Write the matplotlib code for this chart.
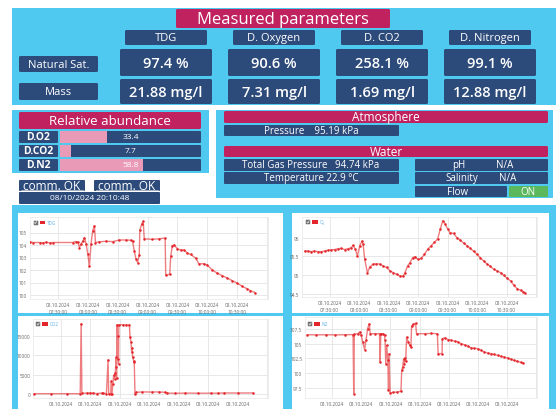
import matplotlib
matplotlib.use('Agg')
import matplotlib.pyplot as plt
from matplotlib.patches import FancyBboxPatch, Rectangle
import pandas as pd
import numpy as np

plt.rcParams['font.family'] = ['Open Sans', 'DejaVu Sans']

# ---------------- data ----------------
params = ['TDG', 'D. Oxygen', 'D. CO2', 'D. Nitrogen']
row_labels = ['Natural Sat.', 'Mass']
nat_sat = ['97.4 %', '90.6 %', '258.1 %', '99.1 %']
mass = ['21.88 mg/l', '7.31 mg/l', '1.69 mg/l', '12.88 mg/l']
abund_labels = ['D.O2', 'D.CO2', 'D.N2']
abund_values = [33.4, 7.7, 58.8]
atm_pressure = 'Pressure    95.19 kPa'
tgp_text = 'Total Gas Pressure   94.74 kPa'
temp_text = 'Temperature 22.9 °C'
comm_texts = ['comm. OK', 'comm. OK']
timestamp = '08/10/2024 20:10:48'
day = '2024-10-08'
tick_times = ['07:30:00', '08:00:00', '08:30:00', '09:00:00', '09:30:00', '10:00:00', '10:30:00']

# minutes after 07:00
tdg_t = [1.7, 5, 11.7, 15, 18.3, 21.7, 25, 45, 47.7, 50, 51.7, 53.3, 55, 56.7, 58.3, 60, 61.7, 63.3,
         65, 66.7, 67.7, 71.7, 78.3, 85, 91.7, 98.3, 103.3, 105, 106.7, 108.3, 110, 111.7, 112.3,
         114.3, 115.7, 116.7, 125, 131.7, 137.7, 138.3, 142.3, 143.3, 145, 146.7, 150, 153.3, 156.7,
         160, 163.3, 168.3, 171.7, 176.7, 180, 185, 190, 195, 200, 205, 210, 215, 220, 223.3, 227.7]
tdg_v = [104.21, 104.2, 104.2, 104.18, 104.22, 104.17, 104.2, 104.2, 104.27, 104.25, 103.8, 104.1,
         104.3, 104.6, 104.1, 103.3, 102.3, 104.1, 105.15, 105.55, 104.2, 104.25, 104.3, 104.27,
         104.4, 104.4, 104.38, 104.3, 103.55, 102.9, 102.6, 103.2, 105.2, 105.7, 105.9, 104.5,
         104.45, 104.5, 104.55, 101.6, 101.65, 103.1, 103.95, 104.0, 103.7, 103.6, 103.6, 103.35,
         103.25, 102.95, 102.5, 102.5, 102.4, 102.0, 101.75, 101.55, 101.36, 101.15, 100.95,
         100.7, 100.5, 100.35, 100.2]

o2_t = [5.1, 7.8, 11.25, 14.7, 18.1, 21.5, 24.9, 28.3, 31.7, 35.1, 38.5, 41.9, 45.3, 48.75, 52.2,
        53.9, 56.25, 58.3, 60.7, 63.1, 64.1, 65.8, 68.5, 70.9, 74.3, 77.7, 81.1, 84.5, 88.0, 91.4,
        94.8, 98.2, 101.6, 105.0, 106.7, 109.4, 111.8, 114.5, 116.9, 119.65, 123.1, 126.5, 129.9,
        133.3, 136.7, 140.1, 142.5, 145.2, 147.6, 150.3, 152.7, 156.1, 159.5, 163.0, 166.4, 169.8,
        173.2, 176.6, 180.0, 183.4, 186.8, 190.2, 193.6, 197.0, 200.5, 203.9, 207.3, 210.7, 214.1,
        217.5, 220.9, 224.3, 226.7, 228.75]
o2_v = [95.64, 95.64, 95.62, 95.64, 95.62, 95.62, 95.64, 95.66, 95.67, 95.68, 95.70, 95.71, 95.68,
        95.70, 95.73, 95.79, 95.69, 95.51, 95.78, 95.91, 95.82, 95.42, 95.06, 95.21, 95.29, 95.30,
        95.29, 95.24, 95.20, 95.11, 95.06, 95.02, 94.97, 94.97, 95.06, 95.24, 95.33, 95.46, 95.49,
        95.42, 95.44, 95.55, 95.69, 95.78, 95.87, 95.97, 96.22, 96.45, 96.36, 96.22, 96.13, 96.11,
        96.0, 95.93, 95.85, 95.78, 95.71, 95.63, 95.55, 95.46, 95.37, 95.29, 95.23, 95.15, 95.11,
        95.06, 94.99, 94.91, 94.84, 94.72, 94.63, 94.59, 94.55, 94.53]

co2_t = [3.3, 20, 36.7, 50.0, 51.0, 51.7, 56.7, 60, 63.3, 66.7, 71.7, 73.3, 76.7, 78.3, 79.0, 81,
         81.7, 82.3, 83.3, 84.0, 85, 85.7, 86.0, 86.7, 87, 87.3, 88, 88.3, 89, 89.3, 93.3, 96.7, 100,
         100.7, 101.7, 102.3, 102.7, 103.3, 104.3, 105, 105.7, 106.7, 113.3, 123.3, 130, 136.7,
         138.3, 146.7, 156.7, 170, 183.3, 190, 196.7, 210, 226]
co2_v = [0, 0, 0, 0, 18300, 100, 150, 200, 150, 20, 150, 100, 0, 8840, 0, 0, 3300, 0, 2600, 4770,
         3900, 5500, 6930, 9530, 4000, 18000, 9000, 15000, 7800, 18000, 18000, 17900, 18000, 14700,
         13430, 11000, 12000, 9530, 8660, 8230, 0, 350, 450, 430, 450, 350, 150, 100, 150, 120,
         130, 120, 180, 170, 180]

n2_t = [4.4, 13.0, 23.2, 33.4, 43.6, 51.5, 52.2, 52.8, 56.6, 58.3, 60.0, 61.4, 63.4, 64.8, 66.5,
        68.2, 69.2, 74.3, 78.75, 79.4, 80.1, 82.8, 83.9, 84.5, 85.2, 86.2, 87.3, 88.0, 88.6, 89.7,
        93.1, 96.5, 100.9, 101.6, 102.6, 103.6, 104.3, 105.0, 105.7, 106.7, 108.4, 110.1, 111.1,
        111.8, 113.5, 115.9, 116.9, 125.45, 132.3, 138.4, 139.1, 143.2, 143.5, 145.9, 149.3, 152.7,
        156.1, 159.5, 162.9, 166.4, 169.8, 173.2, 176.6, 180.0, 183.4, 186.8, 190.2, 193.6, 197.0,
        200.5, 203.9, 207.3, 210.7, 214.1, 217.5, 220.9, 224.3, 227.0]
n2_v = [106.53, 106.5, 106.53, 106.5, 106.53, 106.55, 96.5, 106.6, 106.7, 107.0, 106.4, 105.3, 104.0,
        105.55, 107.55, 108.4, 106.7, 106.7, 106.7, 101.9, 106.7, 106.7, 106.4, 105.6, 101.6, 104.7,
        102.2, 97.05, 103.3, 96.6, 96.7, 96.75, 96.9, 100.45, 101.0, 102.4, 101.5, 102.6, 102.0,
        106.1, 105.3, 104.7, 104.4, 108.0, 108.3, 108.5, 106.7, 106.7, 106.75, 106.7, 103.3, 103.3,
        105.85, 106.0, 105.7, 105.57, 105.45, 105.3, 105.0, 104.8, 104.55, 104.3, 104.2, 104.15,
        103.86, 103.6, 103.4, 103.3, 103.18, 103.0, 102.84, 102.7, 102.56, 102.33, 102.16, 102.0,
        101.8, 101.7]

# ---------------- styles ----------------
W, H = 556, 410
BLUE = '#4fc9ef'
DARK = '#2c4a7a'
MAG = '#c02260'
PINK = '#e89ab6'
GREEN = '#5cb85c'
RED = '#e3262b'
LEG = '#5aaee6'

fig = plt.figure(figsize=(W / 100, H / 100), dpi=100)
ax0 = fig.add_axes([0, 0, 1, 1])
ax0.set_xlim(0, W)
ax0.set_ylim(H, 0)
ax0.axis('off')


def box(a, x0, y0, x1, y1, color, r=1.5, z=1):
    a.add_patch(FancyBboxPatch((x0, y0), x1 - x0, y1 - y0,
                               boxstyle=f'round,pad=0,rounding_size={r}',
                               fc=color, ec='none', zorder=z))


def txt(a, x, y, s, fs, color='white', ha='center', weight='normal', z=5):
    a.text(x, y, s, fontsize=fs, color=color, ha=ha, va='center',
           fontweight=weight, zorder=z)


# top panel
box(ax0, 12, 9, 556, 106, BLUE, r=0)
box(ax0, 176, 10, 390, 29, MAG)
txt(ax0, 283, 19.5, 'Measured parameters', 12)
centers = [166, 274, 382, 490]
for cx, p, ns, ms in zip(centers, params, nat_sat, mass):
    box(ax0, cx - 41, 31, cx + 41, 46, DARK)
    txt(ax0, cx, 38.8, p, 8)
    box(ax0, cx - 46, 50, cx + 46, 77, DARK)
    txt(ax0, cx, 63.5, ns, 10.5, weight='semibold')
    box(ax0, cx - 46, 80, cx + 46, 105, DARK)
    txt(ax0, cx, 92.5, ms, 10.5, weight='semibold')
box(ax0, 19, 57, 98, 73, DARK)
txt(ax0, 58.5, 65, row_labels[0], 8)
box(ax0, 19, 84, 98, 101, DARK)
txt(ax0, 58.5, 92.5, row_labels[1], 8)

# relative abundance panel
box(ax0, 12, 111, 209, 174, BLUE, r=0)
box(ax0, 19, 113, 201, 130, MAG)
txt(ax0, 110, 121.5, 'Relative abundance', 9.5)
rows_y = [(132, 144), (146, 158), (160, 172)]
bx0, bx1 = 60, 201
for (ya, yb), lab, val in zip(rows_y, abund_labels, abund_values):
    box(ax0, 19, ya, 58, yb, DARK, r=1)
    txt(ax0, 38.5, (ya + yb) / 2, lab, 7.5, weight='bold')
    box(ax0, bx0, ya, bx1, yb, DARK, r=1)
    ax0.add_patch(Rectangle((bx0, ya), (bx1 - bx0) * val / 100, yb - ya, fc=PINK, ec='none', zorder=2))
    txt(ax0, (bx0 + bx1) / 2, (ya + yb) / 2, f'{val}', 6)

# comm status
box(ax0, 19, 181, 85, 192, DARK, r=1)
txt(ax0, 52, 186.3, comm_texts[0], 8.5)
ax0.plot([21, 83], [191.3, 191.3], color='white', lw=0.4, zorder=6)
box(ax0, 94, 181, 160, 192, DARK, r=1)
txt(ax0, 127, 186.3, comm_texts[1], 8.5)
ax0.plot([96, 158], [191.3, 191.3], color='white', lw=0.4, zorder=6)
box(ax0, 19, 193, 160, 205, DARK, r=1)
txt(ax0, 89.5, 199, timestamp, 6)

# atmosphere / water panel
box(ax0, 216, 111, 553, 199, BLUE, r=0)
box(ax0, 224, 112, 548, 124, MAG)
txt(ax0, 386, 118, 'Atmosphere', 8.5)
box(ax0, 224, 126, 399, 137, DARK, r=1)
txt(ax0, 311, 131.5, atm_pressure, 7)
box(ax0, 224, 147, 548, 158, MAG)
txt(ax0, 386, 152.5, 'Water', 8.5)
box(ax0, 224, 160, 399, 172, DARK, r=1)
txt(ax0, 311, 166, tgp_text, 7)
box(ax0, 224, 173, 399, 185, DARK, r=1)
txt(ax0, 311, 179, temp_text, 7)
box(ax0, 415, 160, 548, 172, DARK, r=1)
txt(ax0, 459, 166, 'pH', 7)
txt(ax0, 505, 166, 'N/A', 7)
box(ax0, 415, 173, 548, 185, DARK, r=1)
txt(ax0, 462, 179, 'Salinity', 7)
txt(ax0, 508, 179, 'N/A', 7)
box(ax0, 415, 187, 507, 198, DARK, r=1)
txt(ax0, 458, 192.5, 'Flow', 7)
box(ax0, 509, 187, 548, 198, GREEN, r=1)
txt(ax0, 528, 192.5, 'ON', 7)

# chart background
box(ax0, 12, 206, 556, 410, BLUE, r=0)
panels = [(18, 214, 283, 314), (292, 214, 549, 314), (18, 317, 283, 410), (292, 317, 549, 410)]
for (a, b, c, d) in panels:
    ax0.add_patch(Rectangle((a, b), c - a, d - b, fc='white', ec='none', zorder=2))

base = pd.Timestamp(day + ' 07:00:00')
ticks = pd.to_datetime([day + ' ' + t for t in tick_times])
tick_labels = [pd.Timestamp(t).strftime('%d.%m.%Y') + '\n' + pd.Timestamp(t).strftime('%H:%M:%S') for t in ticks]


def chart(rect, t_min, vals, ylim, yticks, yfmt):
    x0, y0, x1, y1 = rect
    ax = fig.add_axes([x0 / W, 1 - y1 / H, (x1 - x0) / W, (y1 - y0) / H])
    times = (base + pd.to_timedelta(np.array(t_min), unit='min')).to_numpy()
    ax.plot(times, vals, color=RED, lw=1.0, alpha=0.6, zorder=3)
    ax.plot(times, vals, 'o', color=RED, ms=1.8, mew=0, zorder=4)
    ax.set_xlim((base + pd.Timedelta(minutes=2)).to_numpy(), (base + pd.Timedelta(minutes=241)).to_numpy())
    ax.axvline((base + pd.Timedelta(minutes=240)).to_numpy(), color='#e4e4e4', lw=0.6, zorder=1)
    ax.set_ylim(*ylim)
    ax.set_xticks(ticks.to_numpy())
    ax.set_xticklabels(tick_labels, linespacing=1.6)
    ax.set_yticks(yticks)
    ax.set_yticklabels([yfmt(v) for v in yticks])
    ax.tick_params(length=0, labelsize=3.4, labelcolor='#666', pad=2)
    ax.grid(True, color='#e4e4e4', lw=0.6)
    ax.set_axisbelow(True)
    for s in ax.spines.values():
        s.set_color('#e8e8e8')
        s.set_linewidth(0.5)
    return ax


fmt_plain = lambda v: f'{v:g}'
chart((30, 218, 268, 300), tdg_t, tdg_v, (99.68, 106.24), [100, 101, 102, 103, 104, 105], fmt_plain)
chart((302, 218, 537, 298), o2_t, o2_v, (94.41, 96.55), [94.5, 95, 95.5, 96], fmt_plain)
chart((33, 320, 268, 399), co2_t, co2_v, (-1130, 19500), [0, 5000, 10000, 15000], lambda v: f'{int(v)}')
chart((305, 318, 537, 399), n2_t, n2_v, (95.74, 109.55), [97.5, 100, 102.5, 105, 107.5], fmt_plain)

# legends overlay
axL = fig.add_axes([0, 0, 1, 1], zorder=20)
axL.set_xlim(0, W)
axL.set_ylim(H, 0)
axL.axis('off')
legends = [(33.5, 223.5, 'TDG'), (306, 223, 'O₂'), (36, 325, 'CO2'), (308, 325, 'N2')]
for (lx, ly, lab) in legends:
    axL.add_patch(Rectangle((lx, ly - 2), 4, 4, fc='#7a7a7a', ec='#555', lw=0.3))
    axL.plot([lx + 0.9, lx + 1.8, lx + 3.2], [ly, ly + 1.1, ly - 1.2], color='white', lw=0.4)
    axL.add_patch(Rectangle((lx + 6.3, ly - 1.6), 5.5, 3.2, fc=RED, ec='none'))
    axL.text(lx + 13.5, ly, lab, fontsize=3.3, color=LEG, va='center', ha='left')

fig.savefig('out.png', dpi=100)
